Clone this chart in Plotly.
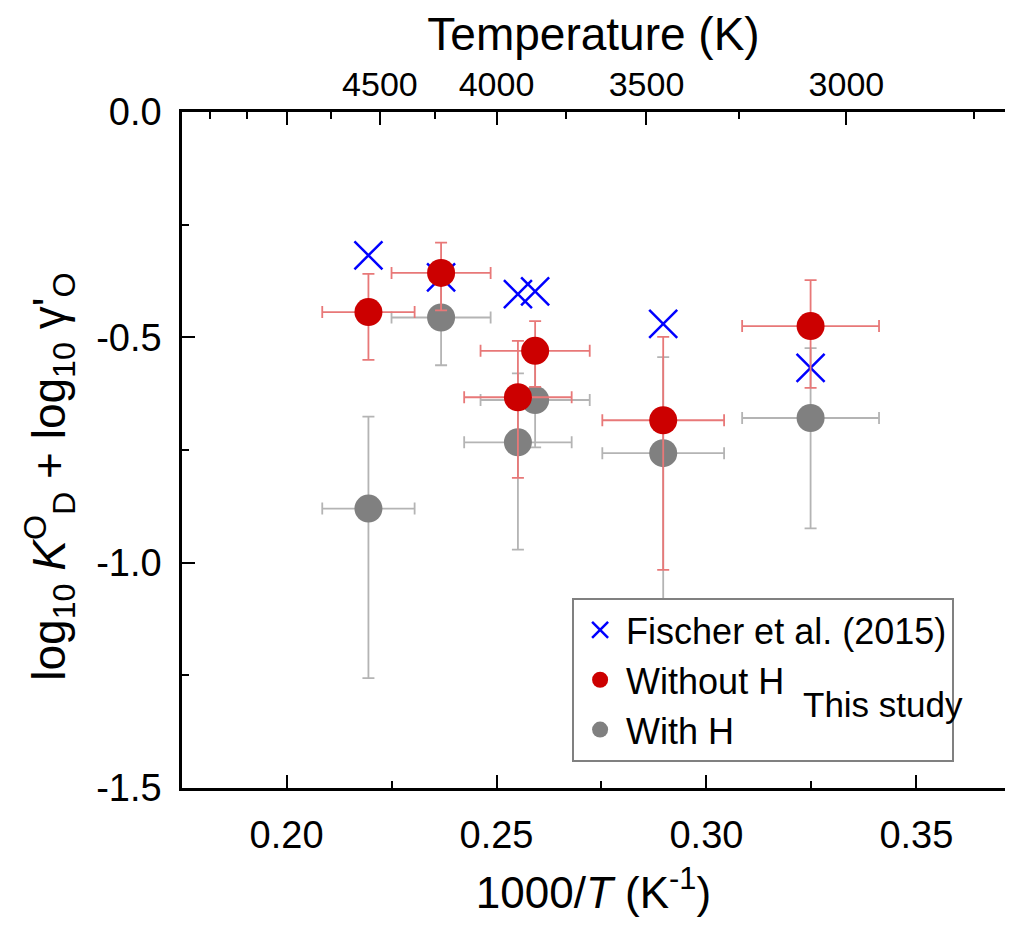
import plotly.graph_objects as go

# 1000/T values (K^-1) of the runs and their uncertainty
inv_t = [0.2195, 0.2368, 0.2551, 0.2592, 0.2897, 0.3248]
inv_t_err = [0.011, 0.0118, 0.0128, 0.013, 0.0145, 0.0163]

# This study, without H
y_noh = [-0.444, -0.357, -0.633, -0.530, -0.684, -0.475]
noh_plus = [0.085, 0.067, 0.125, 0.066, 0.185, 0.102]
noh_minus = [0.106, 0.083, 0.179, 0.080, 0.332, 0.137]

# This study, with H
y_h = [-0.880, -0.456, -0.733, -0.639, -0.757, -0.679]
h_plus = [0.204, 0.085, 0.153, 0.090, 0.213, 0.155]
h_minus = [0.376, 0.106, 0.238, 0.105, 0.433, 0.245]

# Fischer et al. (2015)
inv_t_fischer = [0.2195, 0.2368, 0.2551, 0.2592, 0.2897, 0.3248]
y_fischer = [-0.318, -0.367, -0.404, -0.398, -0.470, -0.568]

# axis ticks
x_ticks = [0.20, 0.25, 0.30, 0.35]
x_labels = ["0.20", "0.25", "0.30", "0.35"]
y_ticks = [0.0, -0.5, -1.0, -1.5]
y_labels = ["0.0", "-0.5", "-1.0", "-1.5"]

# top axis temperatures
temp_major = [5000, 4500, 4000, 3500, 3000]
temp_labels = ["", "4500", "4000", "3500", "3000"]
temp_minor = [5500, 5250, 4750, 4250, 3750, 3250, 2750]

FONT = "Liberation Sans, Arial, sans-serif"

fig = go.Figure()

fig.add_trace(go.Scatter(
    x=inv_t, y=y_h, mode="markers", name="With H",
    marker=dict(color="#808080", size=28),
    error_x=dict(type="data", array=inv_t_err, color="#b4b4b4", thickness=1.8, width=6),
    error_y=dict(type="data", symmetric=False, array=h_plus, arrayminus=h_minus,
                 color="#b4b4b4", thickness=1.8, width=6),
    legendrank=3,
))

fig.add_trace(go.Scatter(
    x=inv_t_fischer, y=y_fischer, mode="markers", name="Fischer et al. (2015)",
    marker=dict(symbol="x-thin", color="blue", size=28, line=dict(color="blue", width=2.5)),
    legendrank=1,
))

fig.add_trace(go.Scatter(
    x=inv_t, y=y_noh, mode="markers", name="Without H",
    marker=dict(color="#cc0000", size=28),
    error_x=dict(type="data", array=inv_t_err, color="#e87878", thickness=1.8, width=6),
    error_y=dict(type="data", symmetric=False, array=noh_plus, arrayminus=noh_minus,
                 color="#e87878", thickness=1.8, width=6),
    legendrank=2,
))

# invisible trace so the top temperature axis gets drawn
fig.add_trace(go.Scatter(
    x=[1000 / t for t in temp_major], y=[-0.1] * len(temp_major), xaxis="x2",
    mode="markers", marker=dict(opacity=0), showlegend=False, hoverinfo="skip",
))

xrange = [0.1751, 0.3711]

fig.update_layout(
    width=997, height=911,
    margin=dict(l=174, r=0, t=104, b=131, autoexpand=False),
    paper_bgcolor="white", plot_bgcolor="white",
    font=dict(family=FONT, size=36, color="black"),
    xaxis=dict(
        range=xrange, tickvals=x_ticks, ticktext=x_labels, automargin=False,
        ticks="inside", ticklen=13, tickwidth=2, tickcolor="black",
        showline=True, linecolor="black", linewidth=2.5,
        showgrid=False, zeroline=False,
        ticklabelstandoff=12, tickfont=dict(size=38),
        minor=dict(tickvals=[0.225, 0.275, 0.325], ticks="inside", ticklen=7,
                   tickwidth=2, tickcolor="black", showgrid=False),
        title=dict(text="1000/<i>T</i> (K<sup>-1</sup>)", font=dict(size=44), standoff=22),
    ),
    xaxis2=dict(
        overlaying="x", side="top", range=xrange, automargin=False,
        tickvals=[1000 / t for t in temp_major], ticktext=temp_labels,
        ticks="inside", ticklen=13, tickwidth=2, tickcolor="black",
        showline=True, linecolor="black", linewidth=2.5,
        showgrid=False, zeroline=False,
        ticklabelstandoff=0, tickfont=dict(size=34),
        minor=dict(tickvals=[1000 / t for t in temp_minor], ticks="inside", ticklen=7,
                   tickwidth=2, tickcolor="black", showgrid=False),
        title=dict(text="Temperature (K)", font=dict(size=46), standoff=10),
    ),
    yaxis=dict(
        range=[-1.5, 0.0], tickvals=y_ticks, ticktext=y_labels, automargin=False,
        ticks="inside", ticklen=13, tickwidth=2, tickcolor="black",
        showline=True, linecolor="black", linewidth=2.5,
        showgrid=False, zeroline=False,
        ticklabelstandoff=10, tickfont=dict(size=38),
        minor=dict(tickvals=[-0.25, -0.75, -1.25], ticks="inside", ticklen=7,
                   tickwidth=2, tickcolor="black", showgrid=False),
    ),
    legend=dict(
        x=0.474, y=0.281, xanchor="left", yanchor="top",
        bgcolor="white", bordercolor="#808080", borderwidth=2,
        font=dict(size=36), traceorder="normal", tracegroupgap=0,
        itemwidth=42,
    ),
    showlegend=True,
)

# y title as an annotation so its centre can be placed like the reference
fig.add_annotation(
    x=-0.162, y=0.46, xref="paper", yref="paper", xanchor="center", yanchor="middle",
    textangle=-90,
    text="log<sub>10</sub> <i>K</i><sup>O</sup><sub>D</sub> + log<sub>10</sub> γ'<sub>O</sub>",
    showarrow=False, font=dict(size=46),
)

fig.add_annotation(
    x=0.852, y=0.123, xref="paper", yref="paper", xanchor="center", yanchor="middle",
    text="This study", showarrow=False, font=dict(size=35),
)

fig.write_html("out.html")
